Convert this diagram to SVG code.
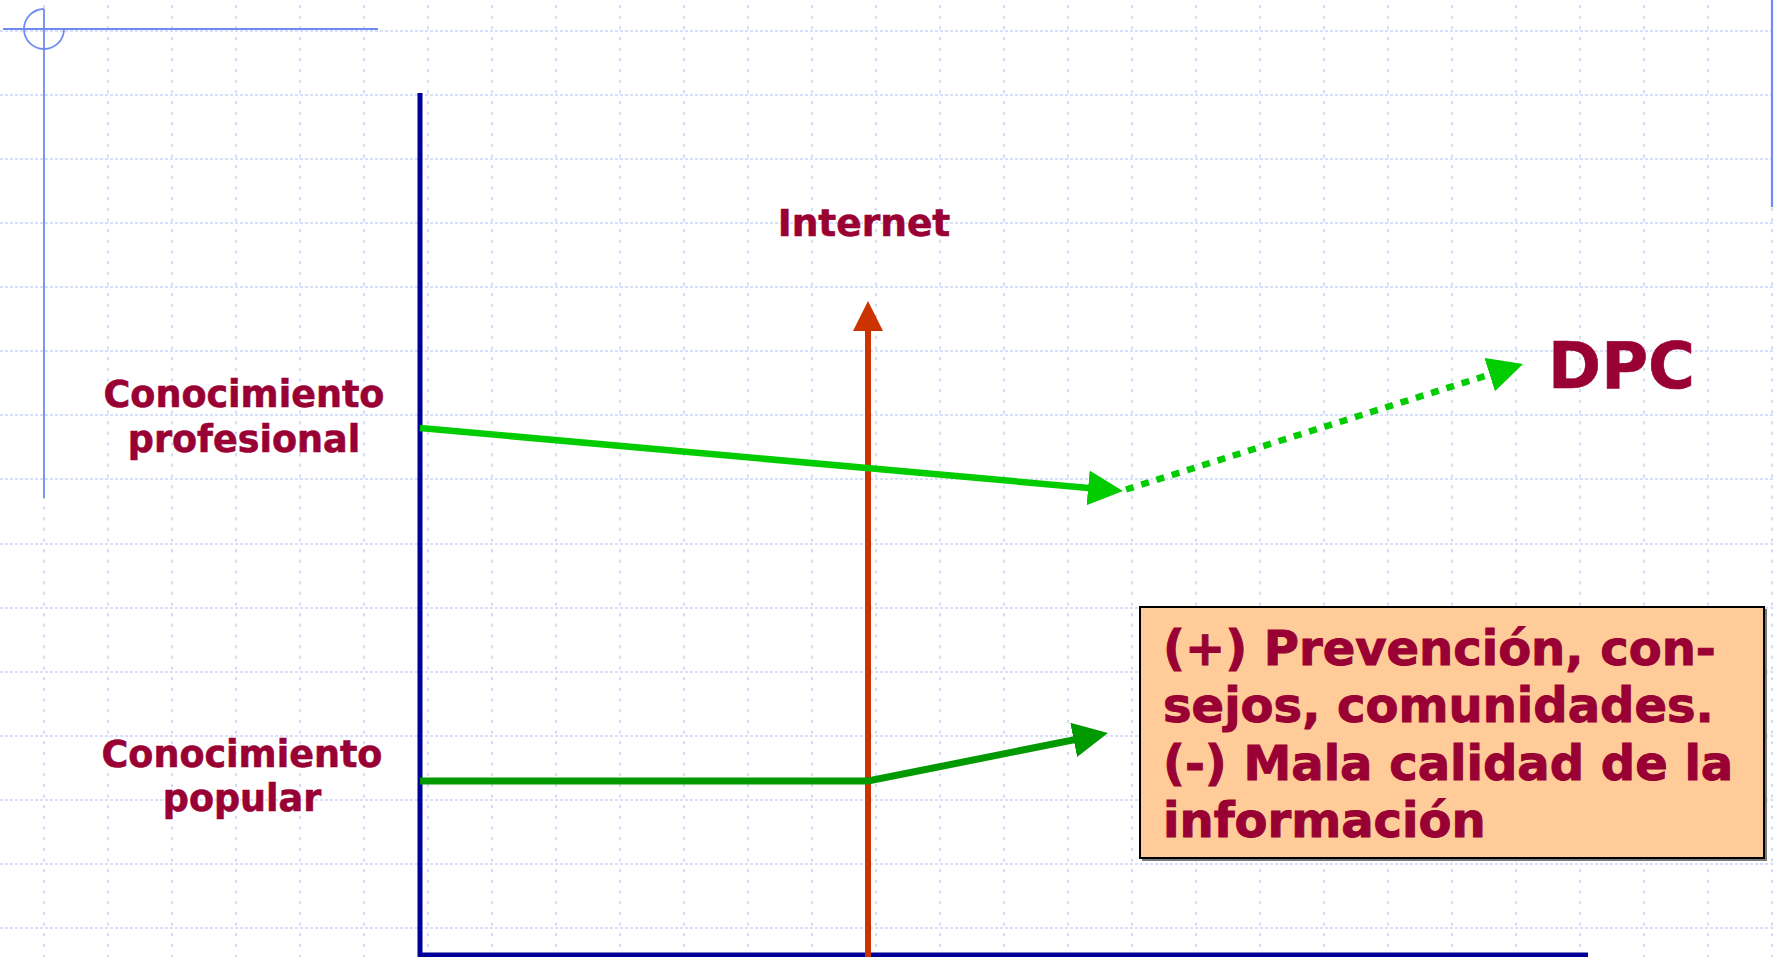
<svg xmlns="http://www.w3.org/2000/svg" width="1774" height="957" viewBox="0 0 1774 957">
<style>
.gh{stroke:#ccd6f7;stroke-width:1.6;stroke-dasharray:3 2;fill:none}
.gv{stroke:#ccd6f7;stroke-width:1.8;stroke-dasharray:3 7.67;fill:none}
.deco{stroke:#6f8cf2;stroke-width:1.8;fill:none}
.axis{stroke:#000099;stroke-width:5;fill:none}
.lbl{font-family:"DejaVu Sans","Verdana",sans-serif;font-weight:bold;fill:#990033;stroke:#990033;stroke-width:0.6}
.boxtxt{stroke-width:1}
</style>
<defs>
<marker id="ahG" markerUnits="userSpaceOnUse" markerWidth="36" markerHeight="36" refX="23" refY="17.5" orient="auto" viewBox="0 0 36 36"><path d="M0,0 L35,17.5 L0,35 z" fill="#00cc00"/></marker>
<marker id="ahDG" markerUnits="userSpaceOnUse" markerWidth="36" markerHeight="36" refX="23" refY="17.5" orient="auto" viewBox="0 0 36 36"><path d="M0,0 L35,17.5 L0,35 z" fill="#009900"/></marker>
<marker id="ahR" markerUnits="userSpaceOnUse" markerWidth="31" markerHeight="31" refX="18" refY="15" orient="auto" viewBox="0 0 31 31"><path d="M0,0 L30,15 L0,30 z" fill="#cc3300"/></marker>
</defs>
<rect width="1774" height="957" fill="#ffffff"/>
<g id="grid">
<path class="gh" d="M0,31H1774M0,95H1774M0,159H1774M0,223H1774M0,287H1774M0,351H1774M0,415H1774M0,479H1774M0,544H1774M0,608H1774M0,672H1774M0,736H1774M0,800H1774M0,864H1774M0,928H1774"/>
<path class="gv" d="M44,5V957M108,5V957M172,5V957M236,5V957M300,5V957M364,5V957M428,5V957M492,5V957M556,5V957M620,5V957M684,5V957M748,5V957M812,5V957M876,5V957M940,5V957M1004,5V957M1068,5V957M1132,5V957M1196,5V957M1260,5V957M1324,5V957M1388,5V957M1452,5V957M1516,5V957M1580,5V957M1644,5V957M1708,5V957M1772,5V957"/>
</g>
<g id="decoration">
<path class="deco" d="M3,29H378"/>
<path class="deco" d="M44,9V498"/>
<path class="deco" d="M44,9 A20,20 0 1 0 64,29"/>
<path class="deco" d="M1772,0V207" style="stroke-width:2.2"/>
</g>
<g id="axes">
<path class="axis" d="M420,93V957"/>
<path class="axis" d="M418,955H1588"/>
</g>
<g id="connectors">
<path d="M868,957V313" stroke="#cc3300" stroke-width="6" fill="none" marker-end="url(#ahR)"/>
<path d="M420,428L1111,489.9" stroke="#00cc00" stroke-width="6.5" fill="none" marker-end="url(#ahG)"/>
<path d="M1126,489.5L1511.6,367.6" stroke="#00cc00" stroke-width="6.5" stroke-dasharray="8 8" fill="none" marker-end="url(#ahG)"/>
<path d="M420,781H868L1096.2,735.4" stroke="#009900" stroke-width="7" fill="none" stroke-linejoin="miter" marker-end="url(#ahDG)"/>
</g>
<g id="node-internet">
<text class="lbl" x="864" y="236" font-size="37.5" text-anchor="middle">Internet</text>
</g>
<g id="node-profesional">
<text class="lbl" font-size="36.5" text-anchor="middle"><tspan x="244" y="407">Conocimiento</tspan><tspan x="244" y="452">profesional</tspan></text>
</g>
<g id="node-popular">
<text class="lbl" font-size="36.5" text-anchor="middle"><tspan x="242" y="767">Conocimiento</tspan><tspan x="242" y="811">popular</tspan></text>
</g>
<g id="node-dpc">
<text class="lbl" x="1548" y="388" font-size="64">DPC</text>
</g>
<g id="node-box">
<rect x="1142" y="609" width="625" height="252" fill="#7a7a7a"/>
<rect x="1140" y="607" width="624" height="251" fill="#ffcc99" stroke="#000000" stroke-width="2"/>
<text class="lbl boxtxt" font-size="48"><tspan x="1163" y="665">(+) Prevención, con-</tspan><tspan x="1163" y="722">sejos, comunidades.</tspan><tspan x="1163" y="780">(-) Mala calidad de la</tspan><tspan x="1163" y="837">información</tspan></text>
</g>
</svg>
